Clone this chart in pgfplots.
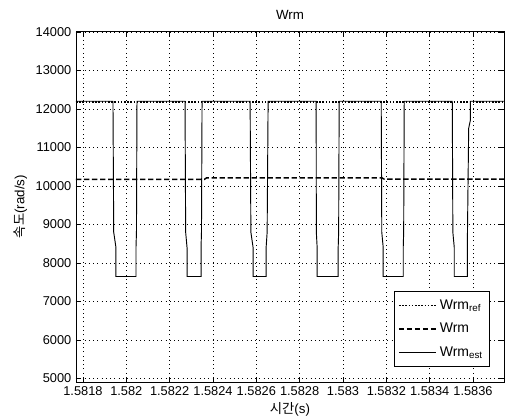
\documentclass[border=0pt]{standalone}
\usepackage{fontspec}
\setmainfont{Liberation Sans}
\newfontfamily\kr{Noto Sans CJK KR}
\usepackage{pgfplots}
\pgfplotsset{compat=1.18}

% time axis in units of 1e-4 s after 1.58 s (keeps pgfplots precise)
\begin{document}
\fontsize{10pt}{12pt}\selectfont
\begin{tikzpicture}
\useasboundingbox (-57pt,-27pt) rectangle (321.75pt,286.5pt);
\begin{axis}[
    at={(0pt,0pt)}, anchor=south west,
    scale only axis, width=321pt, height=263.25pt,
    xmin=17.68, xmax=37.43, ymin=4910, ymax=14025,
    xtick={18,20,...,36},
    xticklabels={1.5818,1.582,1.5822,1.5824,1.5826,1.5828,1.583,1.5832,1.5834,1.5836},
    ytick={5000,6000,...,14000},
    scaled y ticks=false,
    /pgf/number format/assume math mode=true,
    /pgf/number format/1000 sep={},
    tick label style={font=\fontsize{9.6pt}{11pt}\selectfont},
    tick align=inside, xtick pos=both, ytick pos=both,
    xticklabel pos=lower, yticklabel pos=left,
    major tick length=4pt,
    tick style={black, line width=0.6pt},
    axis line style={black, line width=0.7pt},
    grid=major,
    grid style={black, line width=0.5pt, dash pattern=on 0.6pt off 2.6pt},
    title={Wrm},
    every axis title shift=0pt,
    title style={at={(axis description cs:0.5,1.046)}, anchor=center, yshift=0pt,
        font=\fontsize{10pt}{12pt}\selectfont},
    xlabel={{\kr 시간}(s)},
    xlabel style={at={(axis description cs:0.5,-0.078)}, anchor=center,
        font=\fontsize{10pt}{12pt}\selectfont},
    ylabel={{\kr 속도}(rad/s)},
    ylabel style={at={(axis description cs:-0.13,0.5)}, anchor=center,
        font=\fontsize{10pt}{12pt}\selectfont},
    legend style={at={(axis description cs:0.967,0.043)}, anchor=south east,
        draw=black, line width=0.6pt, font=\fontsize{10.5pt}{12pt}\selectfont,
        row sep=5pt, inner xsep=3pt, inner ysep=4pt},
    legend cell align=left,
    legend image code/.code={\draw[#1] (0pt,0pt) -- (28pt,0pt);},
]
\addplot[black, line width=1.2pt, dash pattern=on 1.2pt off 1.2pt]
    coordinates {(17.68,12180) (37.43,12180)};
\addplot[black, line width=1.1pt, dash pattern=on 4pt off 2pt]
    coordinates {(17.68,10170) (23.6,10170) (23.7,10210) (31.8,10210) (31.9,10180) (37.43,10180)};
\addplot[black, line width=0.7pt] coordinates {
    (17.68,12200)
    (19.386,12200) (19.42,8800) (19.524,8400) (19.524,7650)
    (20.448,7650) (20.448,8400) (20.47,8800) (20.494,12200)
    (22.711,12200) (22.74,8800) (22.804,8400) (22.804,7650)
    (23.450,7650) (23.450,8400) (23.47,8800) (23.497,12200)
    (25.714,12200) (25.75,8800) (25.852,8400) (25.852,7650)
    (26.453,7650) (26.453,8400) (26.50,8800) (26.545,12200)
    (28.762,12200) (28.77,8800) (28.808,8400) (28.808,7650)
    (29.778,7650) (29.778,8400) (29.80,8800) (29.824,12200)
    (31.764,12200) (31.79,8800) (31.856,8400) (31.856,7650)
    (32.780,7650) (32.780,8400) (32.80,8800) (32.826,12200)
    (35.043,12200) (35.07,8800) (35.135,8400) (35.135,7650)
    (35.736,7650) (35.736,8400) (35.80,11500) (35.875,11700) (35.875,12200)
    (37.43,12200)
};
\legend{Wrm\textsubscript{ref}, Wrm, Wrm\textsubscript{est}}
\end{axis}
\end{tikzpicture}
\end{document}
